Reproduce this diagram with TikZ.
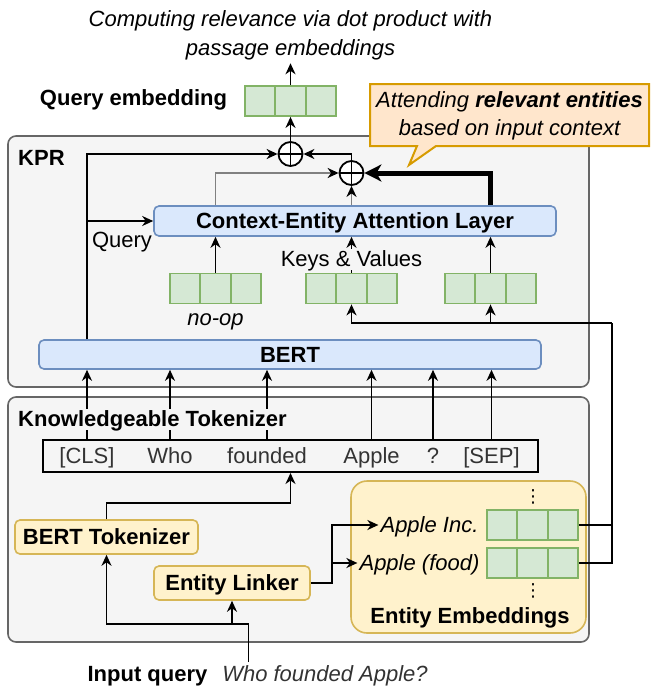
\documentclass[tikz,border=0pt]{standalone}
\usepackage{fontspec}
\setmainfont{Liberation Sans}
\newfontfamily\symfont{DejaVu Sans}
\usetikzlibrary{arrows.meta}
\definecolor{grpfill}{HTML}{F5F5F5}
\definecolor{grpline}{HTML}{666666}
\definecolor{blkfill}{HTML}{DAE8FC}
\definecolor{blkline}{HTML}{6C8EBF}
\definecolor{ylwfill}{HTML}{FFF2CC}
\definecolor{ylwline}{HTML}{D6B656}
\definecolor{vecfill}{HTML}{D5E8D4}
\definecolor{vecline}{HTML}{82B366}
\definecolor{notefill}{HTML}{FFE6CC}
\definecolor{noteline}{HTML}{D79B00}
\definecolor{txtgray}{HTML}{333333}
\definecolor{linegray}{HTML}{808080}
\begin{document}
\begin{tikzpicture}[x=1pt,y=-1pt,
font=\fontsize{22}{28}\selectfont,
lbl/.style={%
inner sep=2pt,
text height=16pt,
text depth=1pt
},
grp/.style={%
draw=grpline,
fill=grpfill,
line width=1.6pt,
rounded corners=8pt
},
blk/.style={%
lbl,
draw=blkline,
fill=blkfill,
line width=1.6pt,
rounded corners=5pt,
font=\fontsize{22}{28}\selectfont\bfseries
},
ylw/.style={%
lbl,
draw=ylwline,
fill=ylwfill,
line width=1.6pt,
rounded corners=5pt,
font=\fontsize{22}{28}\selectfont\bfseries
},
vec/.style={%
draw=vecline,
fill=vecfill,
line width=1.8pt,
minimum width=91,
minimum height=30,
inner sep=0pt,
path picture={%
\draw[vecline,line width=1.8pt]
([xshift=30.3pt]path picture bounding box.north west) -- ([xshift=30.3pt]path picture bounding box.south west)
([xshift=-30.3pt]path picture bounding box.north east) -- ([xshift=-30.3pt]path picture bounding box.south east);
}
},
sum/.style={%
circle,
draw,
fill=white,
line width=1.8pt,
minimum size=24,
inner sep=0pt,
path picture={%
\draw[line width=1.8pt]
(path picture bounding box.north) -- (path picture bounding box.south)
(path picture bounding box.west) -- (path picture bounding box.east);
}
},
tk/.style={%
lbl,
text=txtgray
},
arr/.style={%
line width=1.8pt,
-{Stealth[length=11pt,width=10pt,inset=3.5pt]}
},
garr/.style={%
line width=1.8pt,
draw=linegray,
-{Stealth[length=11pt,width=10pt,inset=3.5pt,color=black]}
},
fat/.style={%
line width=5pt,
-{Stealth[length=17pt,width=17pt,inset=5pt]}
},
]
\useasboundingbox (0,0) rectangle (657,693);
%% Groups
\node[grp,minimum width=581,minimum height=251] (kpr) at (298.5,261.5) {};
\node[grp,minimum width=581,minimum height=245] (kt) at (298.5,519.5) {};
\node[lbl,anchor=west,font=\fontsize{22}{28}\selectfont\bfseries] (kprlab) at (16,158) {KPR};
%% Output
\node[align=center,font=\fontsize{22}{29}\selectfont\itshape] (title) at (290.5,35) {Computing relevance via dot product with\\passage embeddings};
\node[vec] (qemb) at (290.5,101) {};
\node[lbl,font=\fontsize{22}{28}\selectfont\bfseries] (qlab) at (133.5,98) {Query embedding};
\draw[arr] (qemb) -- (title);
%% Callout
\draw[fill=notefill,draw=noteline,line width=2pt] (370,84) -- (649,84) -- (649,146) -- (436,146) -- (409,165) -- (417,146) -- (370,146) -- cycle;
\node[align=center,font=\fontsize{22}{28}\selectfont\itshape] (note) at (509.5,116) {Attending \textbf{relevant entities}\\based on input context};
%% KPR
\node[sum] (sum1) at (290.5,154) {};
\node[sum] (sum2) at (351.5,173) {};
\node[blk,minimum width=402,minimum height=30] (att) at (355,221) {Context-Entity Attention Layer};
\node[vec] (vA) at (215.5,288.5) {};
\node[vec] (vB) at (351.5,288.5) {};
\node[vec] (vC) at (490.5,288.5) {};
\node[lbl,font=\fontsize{22}{28}\selectfont\itshape] (noop) at (215.5,318) {no-op};
\node[blk,minimum width=502,minimum height=29] (bert) at (290,354.5) {BERT};
%% Knowledgeable Tokenizer
\node[draw,line width=2pt,minimum width=495,minimum height=32,inner sep=0pt] (tokbox) at (290.5,456) {};
\node[tk] (cls) at (87,456) {[CLS]};
\node[tk] (who) at (170,456) {Who};
\node[tk] (fnd) at (267,456) {founded};
\node[tk] (apl) at (371.5,456) {Apple};
\node[tk] (qm) at (433,456) {?};
\node[tk] (sep) at (491.5,456) {[SEP]};
\foreach \t in {cls,who,fnd,apl,qm,sep}
\draw[arr] (\t |- tokbox.north) -- (\t |- bert.south);
\node[lbl,anchor=west,fill=grpfill,font=\fontsize{22}{28}\selectfont\bfseries] (ktlab) at (16,419) {Knowledgeable Tokenizer};
\node[ylw,minimum width=183,minimum height=34] (btok) at (106.5,537) {BERT Tokenizer};
\node[ylw,minimum width=156,minimum height=34] (elink) at (232,583) {Entity Linker};
%% Entity Embeddings
\node[ylw,minimum width=235,minimum height=152,rounded corners=16pt] (ebox) at (468.5,557) {};
\node[lbl,font=\fontsize{22}{28}\selectfont\bfseries] (eelab) at (470,616) {Entity Embeddings};
\node[vec] (ev1) at (532.5,525) {};
\node[vec] (ev2) at (532.5,563) {};
\node[lbl,font=\fontsize{22}{28}\selectfont\itshape] (inc) at (429.5,525) {Apple Inc.};
\node[lbl,font=\fontsize{22}{28}\selectfont\itshape] (food) at (419.5,563) {Apple (food)};
\node[inner sep=0pt,font=\fontsize{18}{20}\symfont] (dot1) at (533,497) {⋮};
\node[inner sep=0pt,font=\fontsize{18}{20}\symfont] (dot2) at (533,591) {⋮};
%% Input
\node[lbl,font=\fontsize{22}{28}\selectfont\bfseries] (inlab) at (147.5,674) {Input query};
\node[lbl,text=txtgray,font=\fontsize{22}{28}\selectfont\itshape] (inq) at (325,674) {Who founded Apple?};
\coordinate (qin) at (248.5,662);
\coordinate (bus) at (612,323);
%% Connectors
\draw[arr] (qin) -- ++(0,-38) -| (btok.south);
\draw[arr] (elink.south) ++(0,24) -- (elink.south);
\draw[arr] (btok.north) -- ++(0,-16) -| (tokbox.south);
\draw[arr] (elink.east) -- ++(21,0) |- (inc.west);
\draw[arr] (elink.east) -- ++(21,0) |- (food.west);
\draw[line width=1.8pt] (ev1.east) -| (bus);
\draw[line width=1.8pt] (ev2.east) -| (bus);
\draw[arr] (bus) -| (vB.south);
\draw[arr] (vC.south |- bus) -- (vC.south);
\draw[arr] (vA) -- (vA |- att.south);
\draw[arr] (vB) -- (vB |- att.south);
\draw[arr] (vC) -- (vC |- att.south);
\node[lbl,fill=grpfill] (kv) at (351.5,259) {Keys \& Values};
\draw[arr] (bert.north -| cls) |- (sum1.west);
\draw[arr] (bert.north -| cls) |- (att.west);
\node[lbl] (qry) at (122,240) {Query};
\draw[garr] (att.north -| vA) |- (sum2.west);
\draw[garr] (att.north -| sum2) -- (sum2.south);
\draw[fat] (att.north -| vC) |- (sum2.east);
\draw[arr] (sum2.north) |- (sum1.east);
\draw[arr] (sum1) -- (qemb);
\end{tikzpicture}
\end{document}
